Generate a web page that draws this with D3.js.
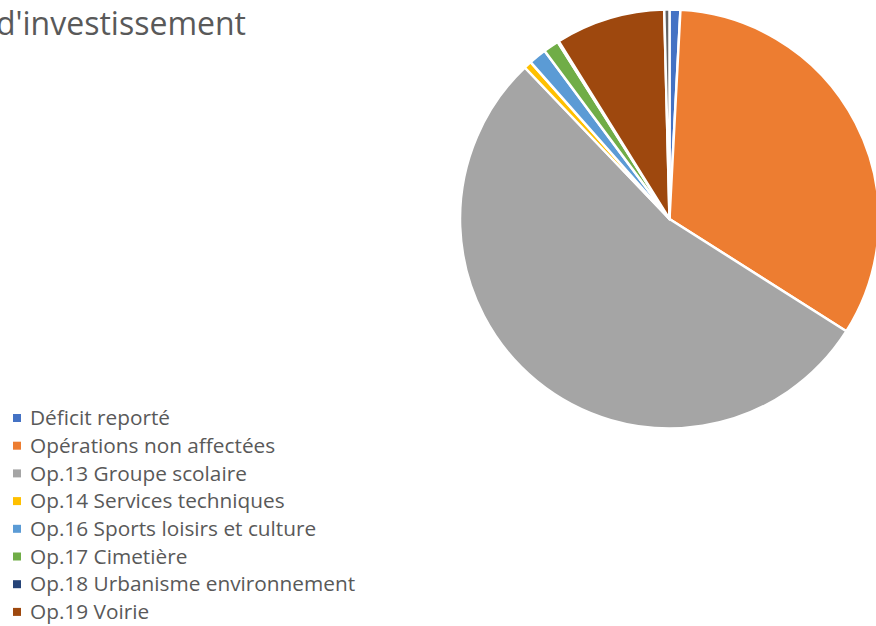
<!DOCTYPE html>
<html>
<head>
<meta charset="utf-8">
<style>
  body { margin: 0; background: #fff; }
  svg { display: block; }
</style>
</head>
<body>
<svg width="876" height="626"></svg>
<script src="https://cdn.jsdelivr.net/npm/d3@7"></script>
<script>

// categories and shares (percent), clockwise from 12 o'clock
var categories = ["Déficit reporté", "Opérations non affectées", "Op.13 Groupe scolaire",
  "Op.14 Services techniques", "Op.16 Sports loisirs et culture", "Op.17 Cimetière",
  "Op.18 Urbanisme environnement", "Op.19 Voirie", "Autres"];
var values = [0.83, 33.1, 53.75, 0.6, 1.36, 1.2, 0.1, 8.45, 0.4];
var colors = ["#4472C4", "#ED7D31", "#A5A5A5", "#FFC000", "#5B9BD5", "#70AD47",
  "#264478", "#9E480E", "#636363"];
var legendCount = 8; // rows that fit in the frame

var data = categories.map(function(c, i) { return {name: c, value: values[i]}; });

var svg = d3.select("svg"),
    width = +svg.attr("width"),
    height = +svg.attr("height");

var cx = 669.5, cy = 219, radius = 209.5;

var color = d3.scaleOrdinal().domain(categories).range(colors);

var pie = d3.pie()
    .sort(null)
    .value(function(d) { return d.value; });

var arc = d3.arc()
    .innerRadius(0)
    .outerRadius(radius);

var g = svg.append("g")
    .attr("transform", "translate(" + cx + "," + cy + ")");

g.selectAll("path")
  .data(pie(data))
  .enter().append("path")
    .attr("d", arc)
    .attr("fill", function(d) { return color(d.data.name); })
    .attr("stroke", "#fff")
    .attr("stroke-width", 2.5)
    .attr("stroke-linejoin", "round");

// title, its start is outside the frame
svg.append("text")
    .attr("x", 246)
    .attr("y", 35)
    .attr("text-anchor", "end")
    .attr("fill", "#595959")
    .style("font-family", "'Open Sans', sans-serif")
    .style("font-size", "32px")
    .text("d'investissement");

var legend = svg.append("g")
    .selectAll("g")
  .data(categories.slice(0, legendCount))
  .enter().append("g")
    .attr("transform", function(d, i) { return "translate(13," + (418 + i * 27.7) + ")"; });

legend.append("rect")
    .attr("x", 0)
    .attr("y", -4)
    .attr("width", 8)
    .attr("height", 8)
    .attr("fill", function(d) { return color(d); });

legend.append("text")
    .attr("x", 17)
    .attr("dy", "0.35em")
    .attr("fill", "#595959")
    .style("font-family", "'Open Sans', sans-serif")
    .style("font-size", "20.8px")
    .text(function(d) { return d; });

</script>
</body>
</html>
